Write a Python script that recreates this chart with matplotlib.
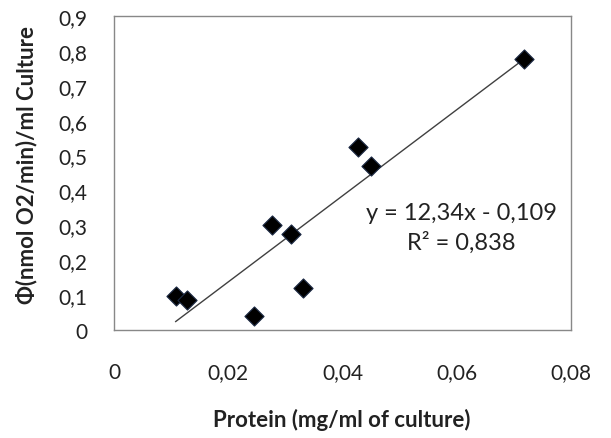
import matplotlib
matplotlib.use("Agg")
import matplotlib.pyplot as plt
import numpy as np

protein = [0.0108, 0.0128, 0.0245, 0.0276, 0.0310, 0.0331, 0.0428, 0.0450, 0.0717]
phi = [0.098, 0.086, 0.040, 0.301, 0.275, 0.119, 0.524, 0.471, 0.778]
slope = 12.34
intercept = -0.109
r2 = 0.838
xticks = [0, 0.02, 0.04, 0.06, 0.08]
yticks = [0, 0.1, 0.2, 0.3, 0.4, 0.5, 0.6, 0.7, 0.8, 0.9]

def fmt(v):
    return ("%g" % v).replace(".", ",")

plt.rcParams['font.family'] = ['Lato', 'DejaVu Sans']

W, H = 611, 439
fig = plt.figure(figsize=(W / 100, H / 100), dpi=100)
ax = fig.add_axes([114 / W, 1 - 331 / H, 457 / W, 314 / H])

ax.scatter(protein, phi, marker='D', s=95, color='black', edgecolors='#1c2a44', linewidths=0.8, zorder=3)
xl = np.array([min(protein), max(protein)])
ax.plot(xl, slope * xl + intercept, color='#404040', linewidth=1.0, zorder=2)

ax.set_xlim(0, 0.08)
ax.set_ylim(0, 0.9)
ax.set_xticks(xticks)
ax.set_xticklabels([fmt(v) for v in xticks], fontsize=15, color='#222222')
ax.set_yticks(yticks)
ax.set_yticklabels([fmt(v) for v in yticks], fontsize=15, color='#222222')
ax.tick_params(axis='both', length=0)
ax.tick_params(axis='x', pad=23)
ax.tick_params(axis='y', pad=19)
for sp in ax.spines.values():
    sp.set_color('#888888')
    sp.set_linewidth(1.0)

eq = "y = " + fmt(slope) + "x - " + fmt(-intercept)
fig.text(461 / W, 1 - 213 / H, eq, ha='center', va='center', fontsize=17, color='#222222')
fig.text(461 / W, 1 - 243 / H, "R² = " + fmt(r2), ha='center', va='center', fontsize=17, color='#222222')

fig.text(342 / W, 1 - 420 / H, "Protein (mg/ml of culture)", ha='center', va='center', fontsize=16, fontweight='bold', color='#222222')
fig.text(27 / W, 1 - 165 / H, "Φ(nmol O2/min)/ml Culture", ha='center', va='center', rotation=90, fontsize=16, fontweight='bold', color='#222222')

fig.savefig("out.png", dpi=100, facecolor='white')
